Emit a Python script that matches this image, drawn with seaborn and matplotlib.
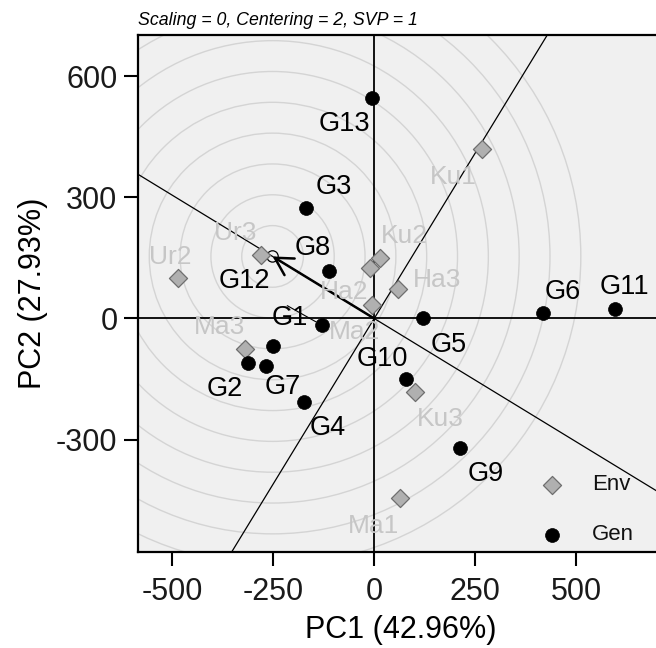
import pandas as pd
import matplotlib
matplotlib.use('Agg')
import matplotlib.pyplot as plt
from matplotlib.patches import Circle
import seaborn as sns

# genotype scores (PC1, PC2)
gen_names = ['G1', 'G2', 'G3', 'G4', 'G5', 'G6', 'G7', 'G8', 'G9', 'G10', 'G11', 'G12', 'G13']
gen_pc1 = [-251.6, -312.2, -167.7, -172.7, 119.6, 416.8, -268.2, -112.9, 213.4, 78.9, 595.4, -129.5, -5.0]
gen_pc2 = [-68.9, -109.6, 274.0, -207.6, 0.0, 14.1, -118.7, 117.9, -319.7, -149.5, 23.3, -16.6, 544.7]

# environment scores (PC1, PC2)
env_names = ['Ku1', 'Ku2', 'Ku3', 'Ha2', 'Ha3', 'Ma1', 'Ma2', 'Ma3', 'Ur2', 'Ur3']
env_pc1 = [265.7, 14.1, 101.3, -10.0, 59.8, 63.9, -6.6, -319.7, -485.8, -279.0]
env_pc2 = [419.3, 149.5, -182.7, 126.2, 73.1, -444.2, 33.2, -74.7, 101.3, 156.1]

# ideal genotype on the average-environment axis, and the ring spacing
ideal_point = (-251.6, 153.6)
ring_step = 76.3
n_rings = 10

x_ticks = [-500, -250, 0, 250, 500]
y_ticks = [-300, 0, 300, 600]
x_label = 'PC1 (42.96%)'
y_label = 'PC2 (27.93%)'
subtitle = 'Scaling = 0, Centering = 2, SVP = 1'

# label offsets in pixels (layout only)
gen_offsets = {
    'G1': (17, 28), 'G2': (-23, -26), 'G3': (27, 21), 'G4': (23, -26),
    'G5': (26, -27), 'G6': (20, 21), 'G7': (17, -21), 'G8': (-16, 23),
    'G9': (25, -26), 'G10': (-24, 20), 'G11': (10, 22), 'G12': (-78, 44),
    'G13': (-28, -26),
}
env_offsets = {
    'Ku1': (-28, -28), 'Ku2': (24, 22), 'Ku3': (25, -27), 'Ha2': (-26, -24),
    'Ha3': (39, 9), 'Ma1': (-27, -28), 'Ma2': (-17, -27), 'Ma3': (-26, 22),
    'Ur2': (-8, 21), 'Ur3': (-26, 22),
}

gen_df = pd.DataFrame({'name': gen_names, 'PC1': gen_pc1, 'PC2': gen_pc2})
env_df = pd.DataFrame({'name': env_names, 'PC1': env_pc1, 'PC2': env_pc2})

sns.set_style('white')
plt.rcParams['font.family'] = ['Liberation Sans', 'DejaVu Sans']
plt.rcParams['text.color'] = 'black'
plt.rcParams['axes.labelcolor'] = 'black'

fig = plt.figure(figsize=(6.56, 6.48), dpi=100)
ax = fig.add_axes([138.4 / 656, 1 - 551.6 / 648, (656 - 138.4) / 656 + 0.01, (551.6 - 35) / 648])
ax.set_facecolor('#f0f0f0')
ax.set_xlim(-583.7, 697.5 + 0.01 * 656 / 0.404)
ax.set_ylim(-577.0, 701.7)

# concentric rings around the ideal genotype
for k in range(1, n_rings + 1):
    ax.add_patch(Circle(ideal_point, k * ring_step, fill=False, ec='#d4d4d4', lw=1.0, zorder=1))

# axes through the origin
ax.axhline(0, color='black', lw=1.3, zorder=2)
ax.axvline(0, color='black', lw=1.3, zorder=2)

# average-environment axis and its perpendicular
ix, iy = ideal_point
ax.axline((0, 0), (ix, iy), color='black', lw=0.9, zorder=2)
ax.axline((0, 0), (iy, -ix), color='black', lw=0.9, zorder=2)
ax.annotate('', xy=ideal_point, xytext=(0, 0),
            arrowprops=dict(arrowstyle='->,head_length=12.5,head_width=7', mutation_scale=1,
                            lw=1.8, color='black', shrinkA=0, shrinkB=0), zorder=3)
ax.add_patch(Circle(ideal_point, 14, fill=False, ec='black', lw=0.9, zorder=3))

sns.scatterplot(data=env_df, x='PC1', y='PC2', marker='D', s=85, color='#b0b0b0',
                edgecolor='#6e6e6e', linewidth=0.9, label='Env', ax=ax, zorder=4)
sns.scatterplot(data=gen_df, x='PC1', y='PC2', marker='o', s=100, color='black',
                edgecolor='black', linewidth=0.5, label='Gen', ax=ax, zorder=4)

for name, x, y in zip(env_names, env_pc1, env_pc2):
    ax.annotate(name, (x, y), xytext=env_offsets[name], textcoords='offset pixels',
                ha='center', va='center', fontsize=19, color='#c6c6c6', zorder=5)
for name, x, y in zip(gen_names, gen_pc1, gen_pc2):
    if name == 'G12':
        ax.annotate(name, (x, y), xytext=gen_offsets[name], textcoords='offset pixels',
                    ha='center', va='center', fontsize=19.5, color='black', zorder=5,
                    arrowprops=dict(arrowstyle='-', color='black', lw=0.8, shrinkA=12, shrinkB=5))
    else:
        ax.annotate(name, (x, y), xytext=gen_offsets[name], textcoords='offset pixels',
                    ha='center', va='center', fontsize=19.5, color='black', zorder=5)

ax.legend(loc='lower right', bbox_to_anchor=(0.975, -0.018), frameon=False, fontsize=16,
          labelspacing=1.3, handletextpad=0.8, borderaxespad=0.3, labelcolor='#111111')

ax.set_xticks(x_ticks)
ax.set_yticks(y_ticks)
ax.set_xticklabels([str(t) for t in x_ticks])
ax.set_yticklabels([str(t) for t in y_ticks])
ax.tick_params(axis='both', which='both', direction='out', length=10, width=1.5,
               labelsize=22, colors='black', labelcolor='#1a1a1a',
               bottom=True, left=True)
ax.tick_params(axis='x', pad=8)
ax.tick_params(axis='y', pad=5)
ax.set_xlabel(x_label, fontsize=22, labelpad=6)
ax.set_ylabel(y_label, fontsize=22, labelpad=6)
for side in ['left', 'bottom', 'top']:
    ax.spines[side].set_color('black')
    ax.spines[side].set_linewidth(1.6)
ax.spines['right'].set_visible(False)
ax.set_title(subtitle, loc='left', fontsize=12.8, style='italic', pad=7)

fig.savefig('out.png', dpi=100)
